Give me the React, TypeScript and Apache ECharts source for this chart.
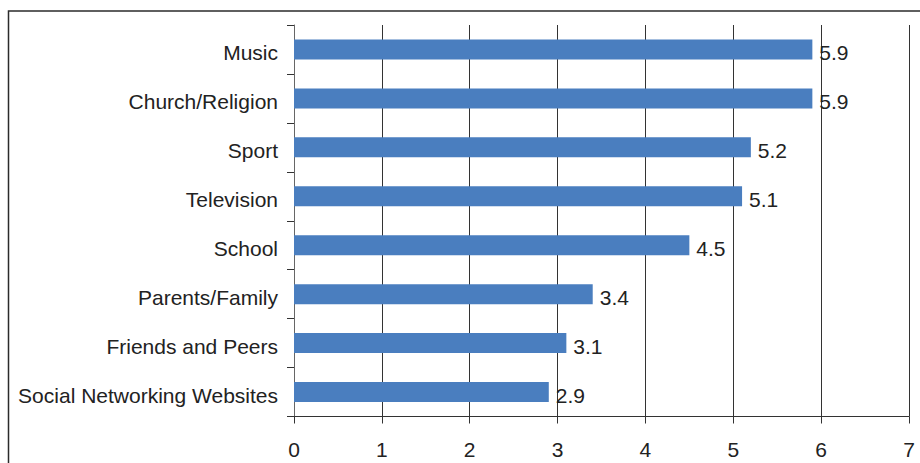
import React, { useEffect, useRef } from "react";
import * as echarts from "echarts";

const categories = [
  "Social Networking Websites",
  "Friends and Peers",
  "Parents/Family",
  "School",
  "Television",
  "Sport",
  "Church/Religion",
  "Music",
];
const values = [2.9, 3.1, 3.4, 4.5, 5.1, 5.2, 5.9, 5.9];
const xTicks = [0, 1, 2, 3, 4, 5, 6, 7];

export default function App() {
  const ref = useRef<HTMLDivElement>(null);
  useEffect(() => {
    if (!ref.current) return;
    const chart = echarts.init(ref.current, undefined, { renderer: "svg" });
    const font = "'Liberation Sans', Arial, sans-serif";
    chart.setOption({
      animation: false,
      backgroundColor: "#ffffff",
      graphic: [
        {
          type: "rect",
          shape: { x: 8.5, y: 11, width: 1000, height: 1000 },
          style: { fill: "none", stroke: "#2b2b2b", lineWidth: 1.5 },
          z: 10,
        },
      ],
      grid: { left: 294, right: 11, top: 25, bottom: 46.5, containLabel: false },
      xAxis: {
        type: "value",
        min: xTicks[0],
        max: xTicks[xTicks.length - 1],
        interval: 1,
        position: "bottom",
        axisLine: { show: true, lineStyle: { color: "#333", width: 1 } },
        axisTick: { show: true, length: 7, lineStyle: { color: "#333" } },
        axisLabel: { color: "#222", fontSize: 21, fontFamily: font, margin: 22 },
        splitLine: { show: true, lineStyle: { color: "#333", width: 1 } },
      },
      yAxis: {
        type: "category",
        data: categories,
        axisLine: { show: true, lineStyle: { color: "#666", width: 1 } },
        axisTick: { show: true, length: 7, lineStyle: { color: "#333" } },
        axisLabel: {
          color: "#222",
          fontSize: 21,
          fontFamily: font,
          margin: 16,
          verticalAlign: "top",
          lineHeight: 6,
        },
        splitLine: { show: false },
      },
      series: [
        {
          type: "bar",
          data: values,
          barWidth: 20,
          itemStyle: { color: "#4a7ebf" },
          label: {
            show: true,
            position: "right",
            distance: 7,
            offset: [0, 3],
            color: "#222",
            fontSize: 21,
            fontFamily: font,
            formatter: (p: any) => p.value.toFixed(1),
          },
        },
      ],
    });
    return () => chart.dispose();
  }, []);
  return (
    <div
      ref={ref}
      style={{ position: "fixed", left: 0, top: 0, width: 920, height: 463 }}
    />
  );
}
